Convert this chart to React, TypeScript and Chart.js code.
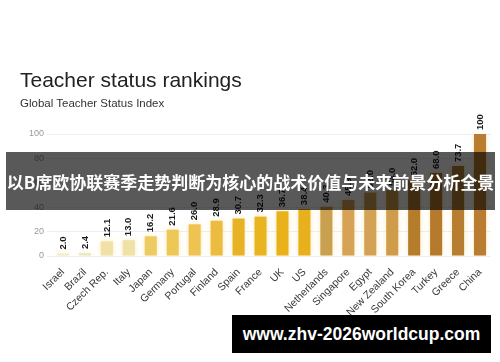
import React, { useEffect, useRef } from "react";
import { Chart, registerables } from "chart.js";

Chart.register(...registerables);

const countries = [
  "Israel", "Brazil", "Czech Rep.", "Italy", "Japan", "Germany", "Portugal",
  "Finland", "Spain", "France", "UK", "US", "Netherlands", "Singapore",
  "Egypt", "New Zealand", "South Korea", "Turkey", "Greece", "China",
];
const indexValues = [
  2.0, 2.4, 12.1, 13.0, 16.2, 21.6, 26.0, 28.9, 30.7, 32.3,
  36.7, 38.4, 40.3, 45.9, 52.0, 54.0, 62.0, 68.0, 73.7, 100,
];
const barColors = [
  "#eeebc8", "#ece8c2", "#f0e2a6", "#f0e2a6", "#eecb62", "#eec856", "#eec352",
  "#ebbc40", "#e8b226", "#e8b420", "#e9b21a", "#e8b01c", "#c9a04f", "#d6a256",
  "#d4a254", "#cf9c4c", "#b57c2c", "#b57a2c", "#b87e30", "#b97c30",
];
const yTicks = [0, 20, 40, 60, 80, 100];

const TITLE = "Teacher status rankings";
const SUBTITLE = "Global Teacher Status Index";
const BANNER = "以B席欧协联赛季走势判断为核心的战术价值与未来前景分析全景";
const WATERMARK = "www.zhv-2026worldcup.com";

const valueLabelPlugin = {
  id: "valueLabels",
  afterDatasetsDraw(chart: any) {
    const ctx = chart.ctx;
    const meta = chart.getDatasetMeta(0);
    const data = chart.data.datasets[0].data as number[];
    ctx.save();
    ctx.font = "bold 9.5px 'Liberation Sans', Arial, sans-serif";
    ctx.fillStyle = "#1a1a1a";
    ctx.textAlign = "left";
    ctx.textBaseline = "middle";
    meta.data.forEach((bar: any, i: number) => {
      const v = data[i];
      const label = v === 100 ? "100" : v.toFixed(1);
      ctx.save();
      ctx.translate(bar.x, bar.y - 4);
      ctx.rotate(-Math.PI / 2);
      ctx.fillText(label, 0, 0);
      ctx.restore();
    });
    ctx.restore();
  },
};

const glowPlugin = {
  id: "barGlow",
  beforeDatasetsDraw(chart: any) {
    const ctx = chart.ctx;
    ctx.save();
    ctx.shadowColor = "rgba(250, 215, 120, 0.55)";
    ctx.shadowBlur = 5;
  },
  afterDatasetsDraw(chart: any) {
    chart.ctx.restore();
  },
};

function BarChart() {
  const ref = useRef<HTMLCanvasElement | null>(null);
  useEffect(() => {
    if (!ref.current) return;
    const chart = new Chart(ref.current, {
      type: "bar",
      data: {
        labels: countries,
        datasets: [
          {
            data: indexValues,
            backgroundColor: barColors,
            borderWidth: 0,
            categoryPercentage: 1,
            barPercentage: 0.55,
          },
        ],
      },
      options: {
        animation: false,
        responsive: false,
        maintainAspectRatio: false,
        layout: { padding: { top: 134, right: 9, left: 0, bottom: 0 } },
        plugins: {
          legend: { display: false },
          tooltip: { enabled: false },
          title: { display: false },
        },
        scales: {
          x: {
            grid: { display: false },
            border: { display: false },
            ticks: {
              minRotation: 45,
              maxRotation: 45,
              autoSkip: false,
              padding: 2,
              color: "#3a3a3a",
              font: { family: "'Liberation Sans', Arial, sans-serif", size: 10.5 },
            },
            afterFit: (s: any) => {
              s.height = 106;
            },
          },
          y: {
            min: 0,
            max: 100,
            afterBuildTicks: (s: any) => {
              s.ticks = yTicks.map((v) => ({ value: v }));
            },
            grid: { color: "#eeeeee", tickLength: 5, drawTicks: true, tickColor: "#eeeeee" },
            border: { display: false },
            ticks: {
              padding: 3,
              color: "#999999",
              font: { family: "'Liberation Sans', Arial, sans-serif", size: 9 },
            },
            afterFit: (s: any) => {
              s.width = 52;
            },
          },
        },
      },
      plugins: [glowPlugin, valueLabelPlugin],
    });
    return () => chart.destroy();
  }, []);
  return (
    <canvas
      ref={ref}
      width={500}
      height={362}
      style={{ position: "absolute", left: 0, top: 0, width: 500, height: 362 }}
    />
  );
}

export default function App() {
  return (
    <div
      style={{
        position: "fixed",
        left: 0,
        top: 0,
        width: 500,
        height: 362,
        background: "#ffffff",
        overflow: "hidden",
        fontFamily: "'Liberation Sans', Arial, sans-serif",
      }}
    >
      <BarChart />
      <div
        style={{
          position: "absolute",
          left: 20,
          top: 69,
          fontSize: 21,
          lineHeight: "21px",
          color: "#222222",
          whiteSpace: "nowrap",
        }}
      >
        {TITLE}
      </div>
      <div
        style={{
          position: "absolute",
          left: 20,
          top: 96.5,
          fontSize: 11.5,
          lineHeight: "12px",
          color: "#333333",
          whiteSpace: "nowrap",
        }}
      >
        {SUBTITLE}
      </div>
      <div
        style={{
          position: "absolute",
          left: 6,
          top: 152,
          width: 489,
          height: 58,
          background: "rgba(0,0,0,0.65)",
          display: "flex",
          alignItems: "center",
          justifyContent: "center",
          color: "#ffffff",
          fontFamily: "'Noto Sans CJK SC', sans-serif",
          fontWeight: 700,
          fontSize: 17,
          whiteSpace: "nowrap",
        }}
      >
        {BANNER}
      </div>
      <div
        style={{
          position: "absolute",
          left: 232,
          top: 315,
          width: 259,
          height: 38,
          background: "#000000",
          display: "flex",
          alignItems: "center",
          justifyContent: "center",
          color: "#ffffff",
          fontWeight: 700,
          fontSize: 17.5,
          whiteSpace: "nowrap",
        }}
      >
        {WATERMARK}
      </div>
    </div>
  );
}
